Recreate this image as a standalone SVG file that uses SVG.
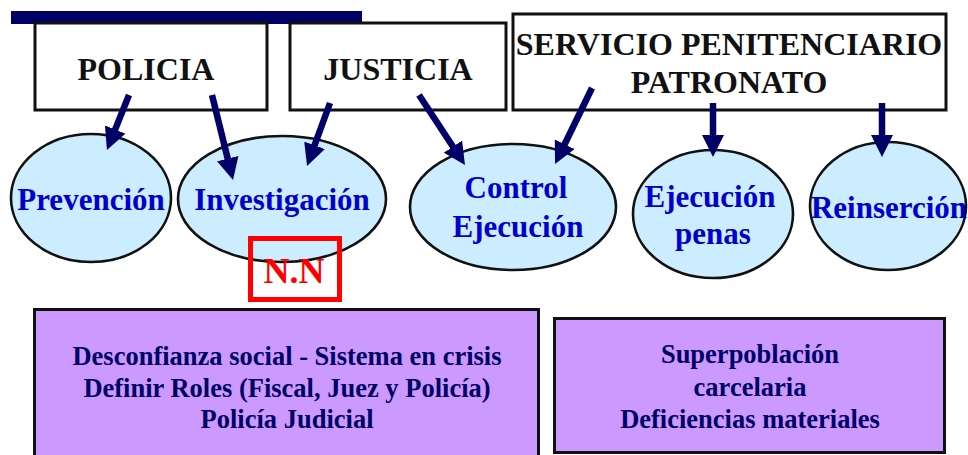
<svg xmlns="http://www.w3.org/2000/svg" width="968" height="455" viewBox="0 0 968 455">
<defs>
<style>
text{font-family:"Liberation Serif","Times New Roman",serif;font-weight:bold;text-anchor:middle}
.box{fill:#fff;stroke:#111;stroke-width:3}
.ell{fill:#CCECFF;stroke:#111;stroke-width:2.6}
.hd{font-size:32px;fill:#111}
.et{font-size:31px;fill:#0000CC}
.pb{fill:#CC99FF;stroke:#111;stroke-width:3}
.bt{font-size:26.5px;fill:#000066}
.arr{stroke:#000066;stroke-width:6.5;fill:none;marker-end:url(#ah)}
</style>
<marker id="ah" markerUnits="userSpaceOnUse" markerWidth="22" markerHeight="22" refX="2" refY="11" orient="auto">
<path d="M0,0 L22,11 L0,22 Z" fill="#000066"/>
</marker>
</defs>
<rect width="968" height="455" fill="#fff"/>
<rect x="11" y="11" width="351" height="13" fill="#000066"/>
<g id="policia"><rect class="box" x="35" y="23" width="232" height="87"/><text class="hd" x="146" y="80">POLICIA</text></g>
<g id="justicia"><rect class="box" x="290" y="23" width="216" height="87"/><text class="hd" x="398" y="80">JUSTICIA</text></g>
<g id="servicio"><rect class="box" x="513" y="14" width="433" height="96"/><text class="hd" x="729" y="55">SERVICIO PENITENCIARIO</text><text class="hd" x="729" y="93">PATRONATO</text></g>
<g id="prevencion"><ellipse class="ell" cx="91" cy="198" rx="80" ry="64"/><text class="et" x="91" y="210">Prevención</text></g>
<g id="investigacion"><ellipse class="ell" cx="282" cy="199" rx="104" ry="63"/><text class="et" x="282" y="210">Investigación</text></g>
<g id="control"><ellipse class="ell" cx="513" cy="207" rx="103" ry="63"/><text class="et" x="516" y="198">Control</text><text class="et" x="518" y="237">Ejecución</text></g>
<g id="ejecucion"><ellipse class="ell" cx="713" cy="214" rx="80" ry="64"/><text class="et" x="710" y="207">Ejecución</text><text class="et" x="713" y="244">penas</text></g>
<g id="reinsercion"><ellipse class="ell" cx="888" cy="206" rx="78" ry="64"/><text class="et" x="889" y="218">Reinserción</text></g>
<g id="nn"><rect x="250.5" y="238.5" width="89" height="61" fill="none" stroke="#FF0000" stroke-width="5"/><text x="294" y="283" font-size="36" fill="#FF0000">N.N</text></g>
<g id="problemas1"><rect class="pb" x="34.5" y="309.5" width="504" height="150"/><text class="bt" x="287" y="365">Desconfianza social - Sistema en crisis</text><text class="bt" x="287" y="397">Definir Roles (Fiscal, Juez y Policía)</text><text class="bt" x="287" y="428">Policía Judicial</text></g>
<g id="problemas2"><rect class="pb" x="554.5" y="318.5" width="390" height="134"/><text class="bt" x="750" y="363">Superpoblación</text><text class="bt" x="750" y="396">carcelaria</text><text class="bt" x="750" y="428">Deficiencias materiales</text></g>
<g id="connectors">
<line class="arr" x1="129" y1="95" x2="114.4" y2="131.4"/>
<line class="arr" x1="212" y1="95" x2="228.2" y2="160.6"/>
<line class="arr" x1="330" y1="103" x2="313.9" y2="147.2"/>
<line class="arr" x1="419" y1="95" x2="454" y2="148.3"/>
<line class="arr" x1="592" y1="88" x2="563.8" y2="146"/>
<line class="arr" x1="713" y1="103" x2="713" y2="137"/>
<line class="arr" x1="882" y1="103" x2="882" y2="137"/>
</g>
</svg>
